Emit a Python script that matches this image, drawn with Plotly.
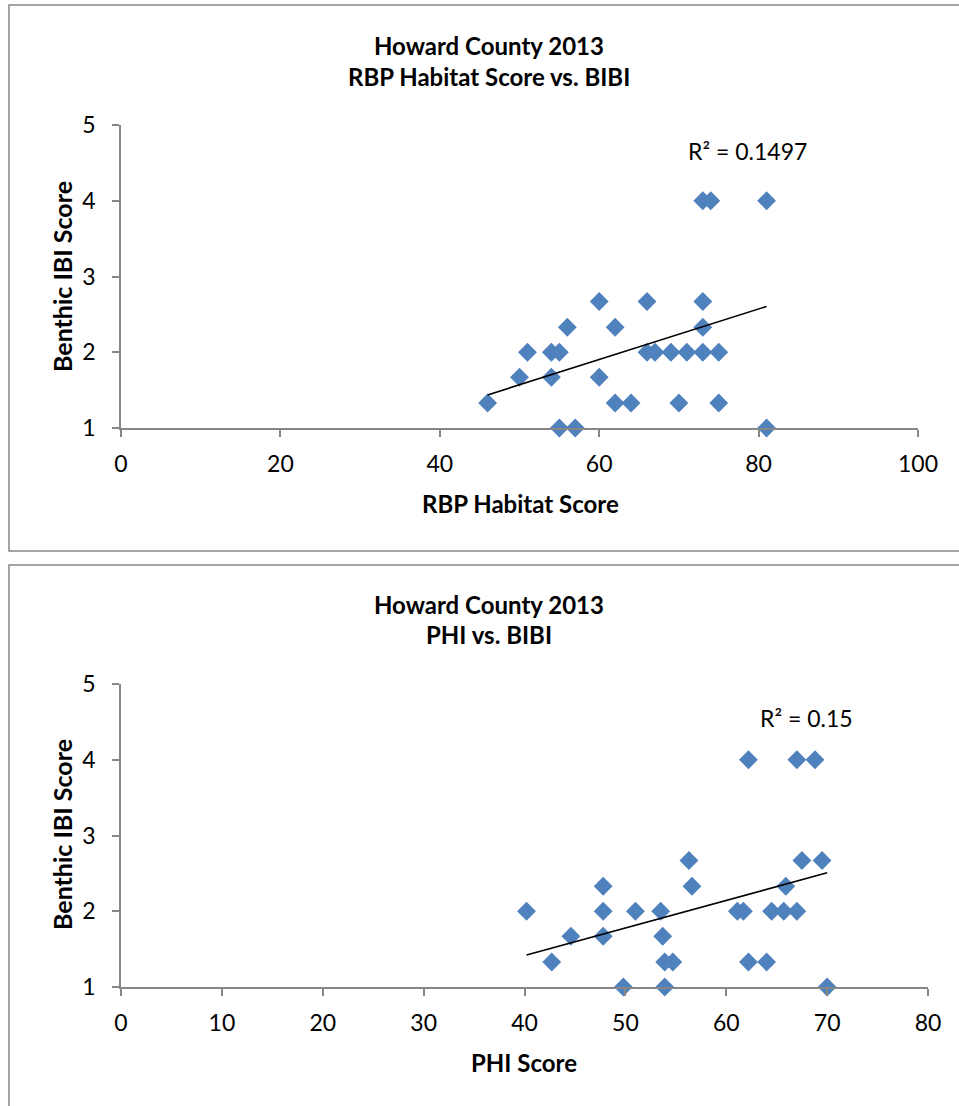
import numpy as np
import plotly.graph_objects as go

W, H = 959, 1106

# ---- data ----
rbp_x = [46, 50, 51, 54, 55, 54, 56, 55, 57, 60, 62, 60, 62, 64, 66, 66, 67, 69, 71,
         73, 75, 73, 73, 70, 75, 73, 74, 81, 81]
rbp_y = [1.33, 1.67, 2, 2, 2, 1.67, 2.33, 1, 1, 2.67, 2.33, 1.67, 1.33, 1.33, 2.67, 2, 2, 2, 2,
         2, 2, 2.67, 2.33, 1.33, 1.33, 4, 4, 4, 1]
phi_x = [40.2, 42.7, 44.6, 47.8, 47.8, 47.8, 49.8, 51.0, 53.5, 53.7, 53.9, 54.7, 53.9, 56.3,
         56.6, 61.1, 61.7, 62.2, 62.2, 64.0, 64.5, 65.7, 67.0, 65.9, 67.5, 69.5, 67.0, 68.8, 70.0]
phi_y = [2, 1.33, 1.67, 2.33, 2, 1.67, 1, 2, 2, 1.67, 1.33, 1.33, 1, 2.67,
         2.33, 2, 2, 4, 1.33, 1.33, 2, 2, 2, 2.33, 2.67, 2.67, 4, 4, 1]
rbp_ticks = [0, 20, 40, 60, 80, 100]
phi_ticks = [0, 10, 20, 30, 40, 50, 60, 70, 80]
y_ticks = [1, 2, 3, 4, 5]
rbp_r2 = "R² = 0.1497"
phi_r2 = "R² = 0.15"

FONT = "Lato"
BLUE = "#4F81BD"
AXC = "#868686"


def px(x):
    return x / W


def py(y):
    return 1 - y / H


def trend(xs, ys):
    m, b = np.polyfit(xs, ys, 1)
    xx = np.array([min(xs), max(xs)])
    return xx, m * xx + b


fig = go.Figure()

for i, (xs, ys) in enumerate([(rbp_x, rbp_y), (phi_x, phi_y)]):
    xa = "x" if i == 0 else "x2"
    ya = "y" if i == 0 else "y2"
    fig.add_trace(go.Scatter(x=xs, y=ys, mode="markers", xaxis=xa, yaxis=ya,
                             marker=dict(symbol="diamond", size=14.5, color=BLUE,
                                         line=dict(width=0)),
                             showlegend=False, hoverinfo="x+y", cliponaxis=False))
    tx, ty = trend(xs, ys)
    fig.add_trace(go.Scatter(x=tx, y=ty, mode="lines", xaxis=xa, yaxis=ya,
                             line=dict(color="black", width=1.6),
                             showlegend=False, hoverinfo="skip"))

axis_common = dict(showgrid=False, zeroline=False, showline=True, linecolor=AXC, linewidth=1.5,
                   ticks="outside", ticklen=7, tickcolor=AXC, tickwidth=1.5, automargin=False,
                   tickfont=dict(family=FONT, size=23, color="black"), fixedrange=True)

fig.update_layout(
    template="none",
    width=W, height=H, margin=dict(l=0, r=0, t=0, b=0, pad=0), autosize=False,
    paper_bgcolor="white", plot_bgcolor="white",
    xaxis=dict(domain=[px(121), px(918)], range=[0, 100], tickvals=rbp_ticks,
               anchor="y", ticklabelstandoff=8, **axis_common),
    yaxis=dict(domain=[py(428), py(125)], range=[1, 5], tickvals=y_ticks,
               anchor="x", ticklabelstandoff=12, **axis_common),
    xaxis2=dict(domain=[px(121), px(928)], range=[0, 80], tickvals=phi_ticks,
                anchor="y2", ticklabelstandoff=8, **axis_common),
    yaxis2=dict(domain=[py(987), py(684)], range=[1, 5], tickvals=y_ticks,
                anchor="x2", ticklabelstandoff=12, **axis_common),
)

# borders
fig.add_shape(type="rect", xref="paper", yref="paper", x0=px(9), x1=px(975), y0=py(551), y1=py(5),
              line=dict(color=AXC, width=1.5), fillcolor="rgba(0,0,0,0)", layer="below")
fig.add_shape(type="rect", xref="paper", yref="paper", x0=px(9), x1=px(975), y0=py(1130), y1=py(565),
              line=dict(color=AXC, width=1.5), fillcolor="rgba(0,0,0,0)", layer="below")

bold = dict(family=FONT, size=24, color="black")
norm = dict(family=FONT, size=23, color="black")


def ann(x, y, text, font, angle=0):
    fig.add_annotation(x=px(x), y=py(y), xref="paper", yref="paper", text=text, showarrow=False,
                       font=font, xanchor="center", yanchor="middle", textangle=angle)


ann(489, 45, "<b>Howard County 2013</b>", bold)
ann(489, 76, "<b>RBP Habitat Score vs. BIBI</b>", bold)
ann(489, 604, "<b>Howard County 2013</b>", bold)
ann(489, 634, "<b>PHI vs. BIBI</b>", bold)
ann(520, 503, "<b>RBP Habitat Score</b>", bold)
ann(524, 1062, "<b>PHI Score</b>", bold)
ann(62, 277, "<b>Benthic IBI Score</b>", dict(family=FONT, size=25, color="black"), -90)
ann(62, 835, "<b>Benthic IBI Score</b>", dict(family=FONT, size=25, color="black"), -90)
ann(747, 151, rbp_r2, norm)
ann(806, 718, phi_r2, norm)

fig.write_html("out.html", config={"displayModeBar": False},
               post_script="document.body.style.margin='0';document.body.style.overflow='hidden';")
